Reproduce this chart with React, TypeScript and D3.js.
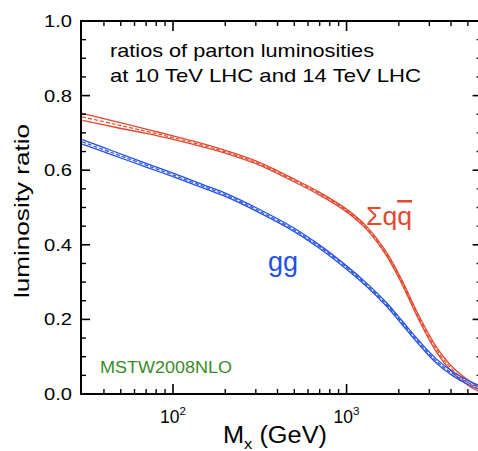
import React from 'react';
import * as d3 from 'd3';

// Invariant mass grid (GeV)
const masses = [30, 45, 70, 100, 150, 200, 300, 500, 700, 1000, 1300, 1700, 2100, 2600, 3300, 4100, 5100, 6000];
// Σ q qbar luminosity ratio (central) and half band width
const qqbarRatio = [0.743, 0.7245, 0.7043, 0.6873, 0.6662, 0.6493, 0.6211, 0.5723, 0.537, 0.492, 0.446, 0.375, 0.297, 0.206, 0.119, 0.064, 0.028, 0.009];
const qqbarHalf = [0.0095, 0.008, 0.0058, 0.0048, 0.0042, 0.0038, 0.0037, 0.0037, 0.0037, 0.0037, 0.004, 0.0045, 0.0052, 0.006, 0.0066, 0.007, 0.007, 0.006];
// gg luminosity ratio (central) and half band width
const ggRatio = [0.676, 0.646, 0.6135, 0.5872, 0.5564, 0.5341, 0.4954, 0.4399, 0.3946, 0.339, 0.2934, 0.24, 0.19, 0.139, 0.088, 0.054, 0.029, 0.015];
const ggHalf = [0.0062, 0.0055, 0.005, 0.0047, 0.0045, 0.0045, 0.0045, 0.0045, 0.0045, 0.0045, 0.0045, 0.0048, 0.005, 0.0052, 0.0055, 0.0055, 0.0055, 0.005];

const yMajor = [0, 0.2, 0.4, 0.6, 0.8, 1.0];
const yMinor = d3.range(0.05, 1.0, 0.05).filter((v) => Math.abs(v * 5 - Math.round(v * 5)) > 1e-6);
const xMajor = [100, 1000];
const xMinor = [40, 50, 60, 70, 80, 90, 200, 300, 400, 500, 600, 700, 800, 900, 2000, 3000, 4000, 5000];
const xTickLabels = [
  { v: 100, base: '10', exp: '2' },
  { v: 1000, base: '10', exp: '3' },
];

const RED = '#e2482e';
const BLUE = '#2250e6';
const GREEN = '#3b8b2a';
const FONT = '"Liberation Sans", Arial, Helvetica, sans-serif';

export default function App() {
  const W = 478;
  const H = 451;
  const x = d3.scaleLog().domain([29.5, 6000]).range([81, 481.6]);
  const y = d3.scaleLinear().domain([0, 1]).range([394, 21]);
  const L = 81, R = 481.6, T = 21, B = 394;

  const mk = (vals: number[], off: number[], sign: number) =>
    d3
      .line<number>()
      .x((_, i) => x(masses[i]))
      .y((v, i) => y(v + sign * off[i]))
      .curve(d3.curveCatmullRom.alpha(0.5))(vals) as string;

  const band = (vals: number[], off: number[], color: string) => (
    <g fill="none" stroke={color}>
      <path d={mk(vals, off, 1)} strokeWidth={1.3} />
      <path d={mk(vals, off, -1)} strokeWidth={1.3} />
      <path d={mk(vals, off, 0)} strokeWidth={1.2} strokeDasharray="4 2" />
    </g>
  );

  return (
    <svg width={W} height={H} style={{ position: 'absolute', left: 0, top: 0, background: '#fff' }} fontFamily={FONT}>
      <rect x={0} y={0} width={W} height={H} fill="#fff" />
      {/* curves */}
      {band(qqbarRatio, qqbarHalf, RED)}
      {band(ggRatio, ggHalf, BLUE)}

      {/* frame */}
      <rect x={L} y={T} width={R - L} height={B - T} fill="none" stroke="#000" strokeWidth={2} />
      {/* y ticks */}
      {yMajor.map((v) => (
        <g key={'ym' + v} stroke="#000" strokeWidth={1.6}>
          <line x1={L} x2={L + 9} y1={y(v)} y2={y(v)} />
          <line x1={R} x2={R - 9} y1={y(v)} y2={y(v)} />
        </g>
      ))}
      {yMinor.map((v) => (
        <g key={'yn' + v} stroke="#000" strokeWidth={1.4}>
          <line x1={L} x2={L + 5} y1={y(v)} y2={y(v)} />
          <line x1={R} x2={R - 5} y1={y(v)} y2={y(v)} />
        </g>
      ))}
      {xMajor.map((v) => (
        <g key={'xm' + v} stroke="#000" strokeWidth={1.6}>
          <line x1={x(v)} x2={x(v)} y1={B} y2={B - 10} />
          <line x1={x(v)} x2={x(v)} y1={T} y2={T + 10} />
        </g>
      ))}
      {xMinor.map((v) => (
        <g key={'xn' + v} stroke="#000" strokeWidth={1.4}>
          <line x1={x(v)} x2={x(v)} y1={B} y2={B - 5} />
          <line x1={x(v)} x2={x(v)} y1={T} y2={T + 5} />
        </g>
      ))}

      {/* y tick labels */}
      {yMajor.map((v) => (
        <text key={'yl' + v} x={72} y={y(v) + 6} fontSize={16.5} textAnchor="end" textLength={28} lengthAdjust="spacingAndGlyphs">
          {v.toFixed(1)}
        </text>
      ))}
      {/* x tick labels */}
      {xTickLabels.map((t) => (
        <text key={'xl' + t.v} x={x(t.v) - 13} y={423} fontSize={17.5}>
          {t.base}
          <tspan fontSize={11.5} dy={-8}>{t.exp}</tspan>
        </text>
      ))}

      {/* axis titles */}
      <text transform="translate(29,211) rotate(-90)" fontSize={21} textAnchor="middle" textLength={174} lengthAdjust="spacingAndGlyphs">
        luminosity ratio
      </text>
      <text x={223} y={443} fontSize={23} textLength={104} lengthAdjust="spacingAndGlyphs">
        M<tspan fontSize={15} dy={6}>x</tspan>
        <tspan dy={-6}> (GeV)</tspan>
      </text>

      {/* annotations */}
      <text x={110} y={57} fontSize={18.6} textLength={264} lengthAdjust="spacingAndGlyphs">
        ratios of parton luminosities
      </text>
      <text x={110} y={82} fontSize={18.6} textLength={311} lengthAdjust="spacingAndGlyphs">
        at 10 TeV LHC and 14 TeV LHC
      </text>
      <text x={100} y={373} fontSize={16.3} fill={GREEN} textLength={132} lengthAdjust="spacingAndGlyphs">
        MSTW2008NLO
      </text>
      <text x={366} y={225} fontSize={25} fill={RED} textLength={46} lengthAdjust="spacingAndGlyphs">
        Σq<tspan style={{ textDecoration: 'overline' }}>q</tspan>
      </text>
      <text x={268} y={271} fontSize={27} fill={BLUE}>
        gg
      </text>
    </svg>
  );
}
